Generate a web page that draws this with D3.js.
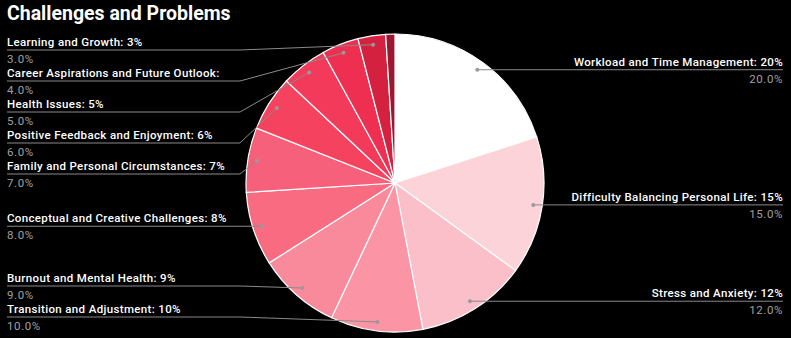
<!DOCTYPE html>
<html>
<head>
<meta charset="utf-8">
<script src="https://cdn.jsdelivr.net/npm/d3@7"></script>
<style>
  html, body { margin: 0; padding: 0; background: #000; }
  svg { display: block; }
  text { font-family: Roboto, "Liberation Sans", sans-serif; }
</style>
</head>
<body>
<svg id="chart" width="791" height="338"></svg>
<script>
const title = "Challenges and Problems";
const categories = [
  "Workload and Time Management",
  "Difficulty Balancing Personal Life",
  "Stress and Anxiety",
  "Transition and Adjustment",
  "Burnout and Mental Health",
  "Conceptual and Creative Challenges",
  "Family and Personal Circumstances",
  "Positive Feedback and Enjoyment",
  "Health Issues",
  "Career Aspirations and Future Outlook",
  "Learning and Growth",
  "Other"
];
const values = [20, 15, 12, 10, 9, 8, 7, 6, 5, 4, 3, 1];
const labelTexts = [
  "Workload and Time Management: 20%",
  "Difficulty Balancing Personal Life: 15%",
  "Stress and Anxiety: 12%",
  "Transition and Adjustment: 10%",
  "Burnout and Mental Health: 9%",
  "Conceptual and Creative Challenges: 8%",
  "Family and Personal Circumstances: 7%",
  "Positive Feedback and Enjoyment: 6%",
  "Health Issues: 5%",
  "Career Aspirations and Future Outlook:",
  "Learning and Growth: 3%",
  ""
];
const colors = [
  "#ffffff", "#fdd3da", "#fbbfca", "#fb95a5", "#f98a9b", "#f86b81",
  "#f7607a", "#f5425f", "#f43a5a", "#ee2f51", "#d4213f", "#9c1831"
];

const W = 791, H = 338;
const cx = 395, cy = 183, R = 149, dotR = 140;
const svg = d3.select("#chart");
svg.append("rect").attr("width", W).attr("height", H).attr("fill", "#000");

svg.append("text").attr("x", 7).attr("y", 20)
  .attr("fill", "#fff").attr("font-size", 19.5).attr("font-weight", "bold")
  .text(title);

const data = categories.map((c, i) => ({ name: c, v: values[i], label: labelTexts[i], color: colors[i] }));
const pie = d3.pie().sort(null).value(d => d.v);
const arcs = pie(data);
const arc = d3.arc().innerRadius(0).outerRadius(R);
const dotArc = d3.arc().innerRadius(dotR).outerRadius(dotR);

const g = svg.append("g").attr("transform", `translate(${cx},${cy})`);
g.selectAll("path").data(arcs).join("path")
  .attr("d", arc)
  .attr("fill", d => d.data.color)
  .attr("stroke", "#fff").attr("stroke-width", 1.2);

// label layout
const items = arcs.filter(d => d.data.label).map(d => {
  const [x, y] = dotArc.centroid(d);
  const mid = (d.startAngle + d.endAngle) / 2;
  return { d, dx: cx + x, dy: cy + y, right: mid < Math.PI, ly: cy + y };
});
const gap = 31, topY = 50, botY = 317;
function resolve(list) {
  list.sort((a, b) => a.dy - b.dy);
  for (let i = 0; i < list.length; i++) {
    let y = Math.max(list[i].dy, topY);
    if (i > 0) y = Math.max(y, list[i - 1].ly + gap);
    list[i].ly = y;
  }
  for (let i = list.length - 1; i >= 0; i--) {
    let lim = i === list.length - 1 ? botY : list[i + 1].ly - gap;
    list[i].ly = Math.min(list[i].ly, lim);
  }
}
const left = items.filter(it => !it.right), right = items.filter(it => it.right);
resolve(left); resolve(right);

const lg = svg.append("g");
items.forEach(it => {
  const pts = it.right
    ? [[it.dx, it.dy], [Math.max(it.dx, 550), it.ly], [783, it.ly]]
    : [[it.dx, it.dy], [240, it.ly], [7, it.ly]];
  lg.append("path").attr("d", d3.line()(pts))
    .attr("fill", "none").attr("stroke", "#8a8a8a").attr("stroke-width", 1);
  lg.append("circle").attr("cx", it.dx).attr("cy", it.dy).attr("r", 2)
    .attr("fill", "#9a9a9a");
  const tx = it.right ? 783 : 7;
  const anchor = it.right ? "end" : "start";
  lg.append("text").attr("x", tx).attr("y", it.ly - 4)
    .attr("text-anchor", anchor).attr("fill", "#fff")
    .attr("font-size", 11.5).attr("font-weight", 500).attr("letter-spacing", 0.35)
    .text(it.d.data.label);
  lg.append("text").attr("x", tx).attr("y", it.ly + 13)
    .attr("text-anchor", anchor).attr("fill", "#a0a0a0")
    .attr("font-size", 11.5).attr("letter-spacing", 0.6)
    .text(d3.format(".1f")(it.d.data.v) + "%");
});
</script>
</body>
</html>
